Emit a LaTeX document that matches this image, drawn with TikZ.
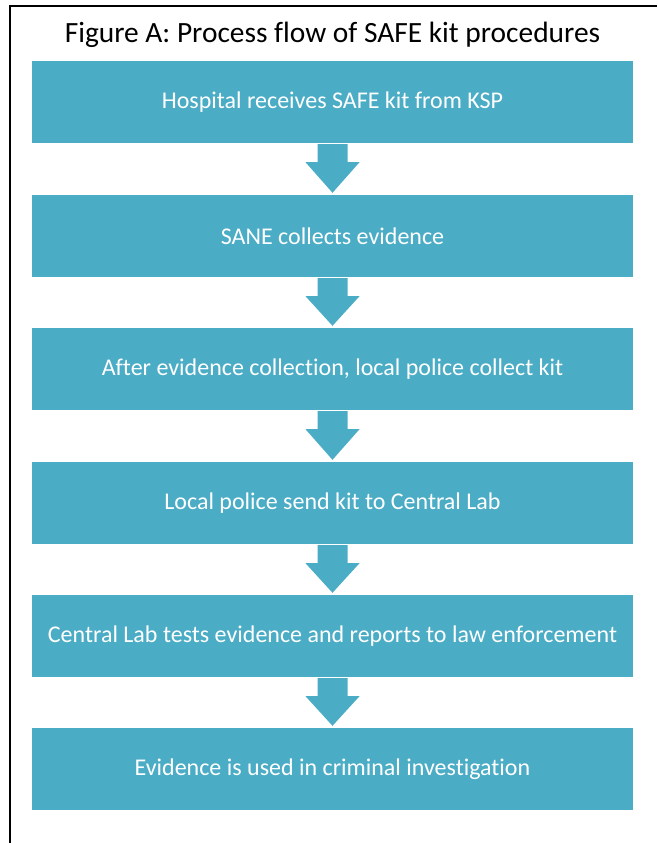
\documentclass[tikz,border=0pt]{standalone}
\usepackage{fontspec}
\setmainfont{Carlito}[Ligatures={NoCommon}]
\usetikzlibrary{calc}
\definecolor{boxblue}{HTML}{4BACC6}
\tikzset{
  stepbox/.style={fill=boxblue, draw=none, minimum width=601pt, minimum height=82pt,
    text=white, font=\fontsize{24}{28}\selectfont, inner sep=0pt},
  flowarrow/.style={fill=boxblue, draw=none},
  titletext/.style={font=\fontsize{29.4}{34}\selectfont, text=black, inner sep=0pt}
}
\newcommand{\flowarr}[2]{%
  \fill[flowarrow] ($(#1.south)+(-15,1)$) -- ($(#1.south)+(15,1)$)
    -- ($(#1.south)+(15,19)$) -- ($(#1.south)+(27,19)$)
    -- ($(#2.north)+(0,-2)$) -- ($(#1.south)+(-27,19)$) -- ($(#1.south)+(-15,19)$) -- cycle;}
\begin{document}
\begin{tikzpicture}[x=1pt,y=-1pt]
\useasboundingbox (0,0) rectangle (657,843);
\draw[line width=2pt] (10,843) -- (10,6.5) -- (657,6.5);
\node[titletext] (title) at (332.5,35) {Figure A: Process flow of SAFE kit procedures};
\node[stepbox] (b1) at (332.5,102) {Hospital receives SAFE kit from KSP};
\node[stepbox] (b2) at (332.5,236) {SANE collects evidence};
\node[stepbox] (b3) at (332.5,369) {After evidence collection, local police collect kit};
\node[stepbox] (b4) at (332.5,503) {Local police send kit to Central Lab};
\node[stepbox] (b5) at (332.5,636) {Central Lab tests evidence and reports to law enforcement};
\node[stepbox] (b6) at (332.5,769) {Evidence is used in criminal investigation};
\flowarr{b1}{b2}
\flowarr{b2}{b3}
\flowarr{b3}{b4}
\flowarr{b4}{b5}
\flowarr{b5}{b6}
\end{tikzpicture}
\end{document}
